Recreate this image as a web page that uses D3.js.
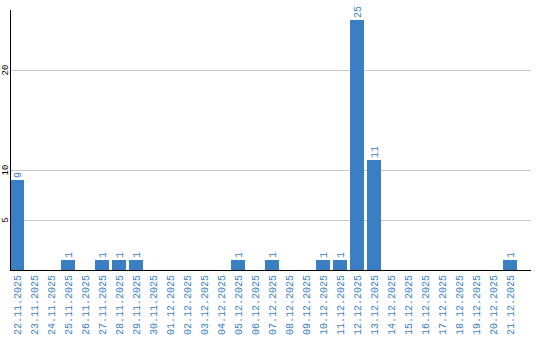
<!DOCTYPE html>
<html>
<head>
<meta charset="utf-8">
<script src="https://cdn.jsdelivr.net/npm/d3@7"></script>
<style>
  body { margin: 0; background: #fff; }
  svg { display: block; }
  text { font-family: "Liberation Mono", monospace; }
</style>
</head>
<body>
<div id="chart-container"></div>
<script>
// dates shown on the x axis
const dates = [
  "22.11.2025", "23.11.2025", "24.11.2025", "25.11.2025", "26.11.2025",
  "27.11.2025", "28.11.2025", "29.11.2025", "30.11.2025", "01.12.2025",
  "02.12.2025", "03.12.2025", "04.12.2025", "05.12.2025", "06.12.2025",
  "07.12.2025", "08.12.2025", "09.12.2025", "10.12.2025", "11.12.2025",
  "12.12.2025", "13.12.2025", "14.12.2025", "15.12.2025", "16.12.2025",
  "17.12.2025", "18.12.2025", "19.12.2025", "20.12.2025", "21.12.2025"
];
const counts = [9, 0, 0, 1, 0, 1, 1, 1, 0, 0, 0, 0, 0, 1, 0, 1, 0, 0, 1, 1, 25, 11, 0, 0, 0, 0, 0, 0, 0, 1];
const yTicks = [5, 10, 20];

const W = 540, H = 340;
const margin = { left: 10, bottom: 270, top: 10, right: 531 };
const blue = "#3a7fc4";

const svg = d3.select("#chart-container").append("svg")
  .attr("width", W)
  .attr("height", H);

// band scale: 17px step, 14px bar at the left of each slot
const x = d3.scaleBand()
  .domain(dates)
  .range([margin.left, margin.left + dates.length * 17 - 3])
  .paddingInner(3 / 17)
  .paddingOuter(0)
  .align(0);

const y = d3.scaleLinear()
  .domain([0, 26])
  .range([margin.bottom, margin.top]);

// grid lines
svg.append("g")
  .selectAll("line")
  .data(yTicks)
  .join("line")
  .attr("x1", margin.left)
  .attr("x2", margin.right)
  .attr("y1", d => y(d) + 0.5)
  .attr("y2", d => y(d) + 0.5)
  .attr("stroke", "#c8c8c8")
  .attr("stroke-width", 1);

// y tick labels, rotated
svg.append("g")
  .selectAll("text")
  .data(yTicks)
  .join("text")
  .attr("transform", d => `translate(8,${y(d)}) rotate(-90)`)
  .attr("text-anchor", "middle")
  .attr("font-size", "9px")
  .attr("fill", "#000")
  .text(d => d);

// bars
const data = dates.map((d, i) => ({ date: d, n: counts[i] }));
svg.append("g")
  .selectAll("rect")
  .data(data.filter(d => d.n > 0))
  .join("rect")
  .attr("x", d => x(d.date))
  .attr("y", d => y(d.n))
  .attr("width", x.bandwidth())
  .attr("height", d => margin.bottom - y(d.n))
  .attr("fill", blue);

// value labels above bars
svg.append("g")
  .selectAll("text")
  .data(data.filter(d => d.n > 0))
  .join("text")
  .attr("transform", d => `translate(${x(d.date) + x.bandwidth() / 2 + 4},${y(d.n) - 2}) rotate(-90)`)
  .attr("font-size", "10px")
  .attr("fill", blue)
  .text(d => d.n);

// axes lines
svg.append("line")
  .attr("x1", margin.left + 0.5).attr("x2", margin.left + 0.5)
  .attr("y1", margin.top).attr("y2", margin.bottom)
  .attr("stroke", "#000");
svg.append("line")
  .attr("x1", margin.left).attr("x2", margin.right)
  .attr("y1", margin.bottom + 0.5).attr("y2", margin.bottom + 0.5)
  .attr("stroke", "#000");

// x labels, rotated
svg.append("g")
  .selectAll("text")
  .data(dates)
  .join("text")
  .attr("transform", d => `translate(${x(d) + x.bandwidth() / 2 + 4},${margin.bottom + 5}) rotate(-90)`)
  .attr("text-anchor", "end")
  .attr("font-size", "10px")
  .attr("fill", blue)
  .text(d => d);
</script>
</body>
</html>
